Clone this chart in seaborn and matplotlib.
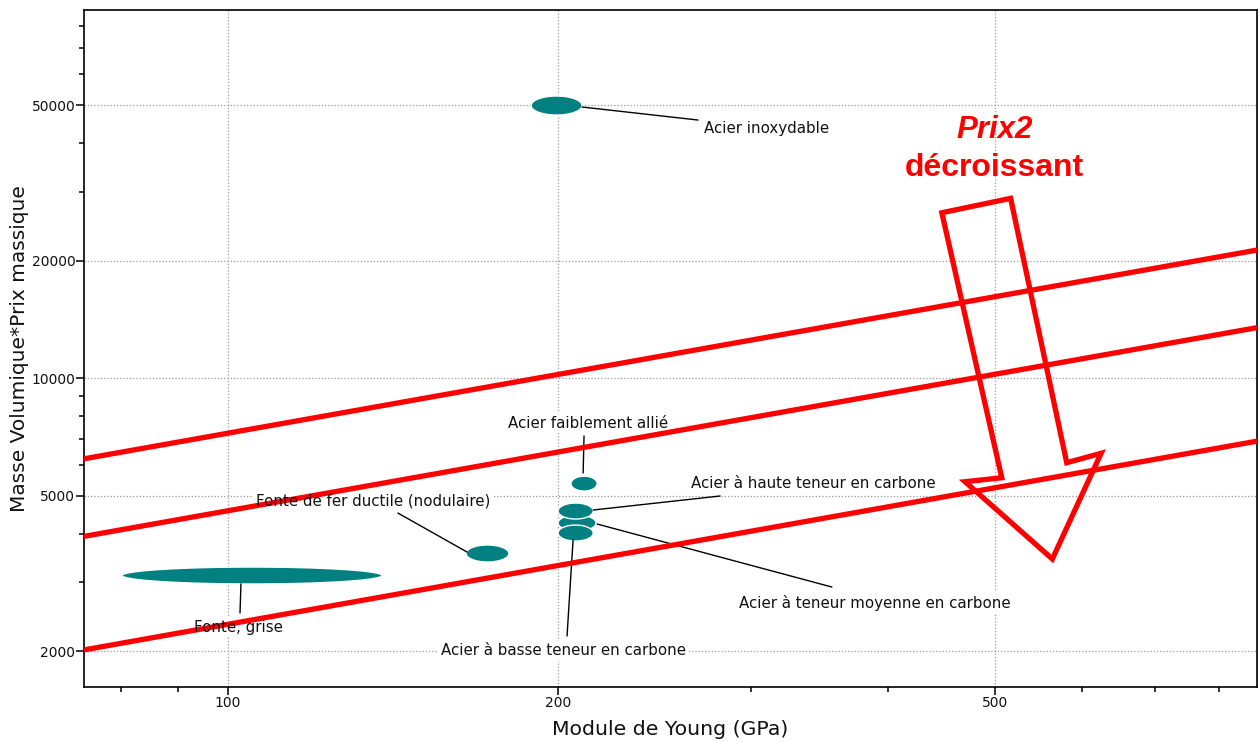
import numpy as np
import pandas as pd
import matplotlib
matplotlib.use("Agg")
import matplotlib.pyplot as plt
import seaborn as sns
from matplotlib.ticker import FixedLocator, LogLocator, NullFormatter, FuncFormatter

# Material property ranges: Young's modulus (GPa) and density * price per mass
materials = [
    "Acier inoxydable",
    "Fonte, grise",
    "Fonte de fer ductile (nodulaire)",
    "Acier faiblement allié",
    "Acier à teneur moyenne en carbone",
    "Acier à haute teneur en carbone",
    "Acier à basse teneur en carbone",
]
young_lo = [189.0, 80.1, 164.9, 205.5, 200.0, 200.0, 200.0]
young_hi = [210.3, 138.2, 180.4, 217.1, 216.6, 215.3, 215.3]
cost_lo = [47200, 2972, 3383, 5141, 4062, 4359, 3829]
cost_hi = [52800, 3284, 3740, 5612, 4464, 4790, 4207]

# Label anchors and leader lines (data units)
label_x = [271.7, 93.2, 106.1, 180.0, 292.4, 264.4, 156.4]
label_y = [43710, 2306, 4848, 7677, 2656, 5359, 2002]
leader_x0 = [210.3, 102.8, 142.9, 211.2, 217.1, 215.3, 206.4]
leader_y0 = [49490, 2972, 4516, 7111, 4232, 4597, 3852]
leader_x1 = [268.3, 102.6, 165.2, 210.8, 355.3, 281.0, 203.8]
leader_y1 = [45830, 2505, 3589, 5718, 2919, 4993, 2187]

# Performance index lines: value = C * E^(1/2)
index_consts = [723.0, 457.6, 234.3]
index_slope = 0.5

# Axis ranges and ticks
x_lim = (74.0, 866.5)
y_lim = (1616, 87690)
x_major = [100, 200, 500]
y_major = [2000, 5000, 10000, 20000, 50000]

# Outline of the "decreasing price" arrow (data units)
arrow_x = [447.5, 517.0, 581.6, 625.1, 564.3, 469.8, 507.5]
arrow_y = [26530, 28880, 6076, 6424, 3443, 5432, 5560]

sns.set_theme(style="white")
plt.rcParams["font.family"] = ["DejaVu Sans"]

fig = plt.figure(figsize=(12.59, 7.42), dpi=100)
ax = fig.add_axes([84.3 / 1259, 1 - 687.3 / 742, (1256.7 - 84.3) / 1259, (687.3 - 10) / 742])
ax.set_xscale("log")
ax.set_yscale("log")
ax.set_xlim(*x_lim)
ax.set_ylim(*y_lim)

# Grid only at labelled ticks
for xv in x_major:
    ax.axvline(xv, color="#9a9a9a", lw=0.9, ls=(0, (1, 1.6)), zorder=0.5)
for yv in y_major:
    ax.axhline(yv, color="#9a9a9a", lw=0.9, ls=(0, (1, 1.6)), zorder=0.5)

# Index lines
e_line = np.geomspace(x_lim[0], x_lim[1], 50)
rows = []
for k, c in enumerate(index_consts):
    for e in e_line:
        rows.append({"E": e, "val": c * e ** index_slope, "line": k})
lines_df = pd.DataFrame(rows)
sns.lineplot(data=lines_df, x="E", y="val", units="line", estimator=None,
             color="#ff0000", lw=3.8, ax=ax, legend=False, zorder=3)

# Property bubbles as ellipses in log space
t = np.linspace(0, 2 * np.pi, 200)
teal = "#008080"
for i in range(len(materials)):
    lx0, lx1 = np.log10(young_lo[i]), np.log10(young_hi[i])
    ly0, ly1 = np.log10(cost_lo[i]), np.log10(cost_hi[i])
    cx, rx = (lx0 + lx1) / 2, (lx1 - lx0) / 2
    cy, ry = (ly0 + ly1) / 2, (ly1 - ly0) / 2
    ax.fill(10 ** (cx + rx * np.cos(t)), 10 ** (cy + ry * np.sin(t)),
            facecolor=teal, edgecolor="white", lw=1.0, zorder=2)

# Labels with leader lines
for i, name in enumerate(materials):
    ax.plot([leader_x0[i], leader_x1[i]], [leader_y0[i], leader_y1[i]],
            color="black", lw=1.0, zorder=2.5)
    ax.text(label_x[i], label_y[i], name, fontsize=10.8, color="#111111",
            ha="left", va="center", zorder=1.5, alpha=0.0,
            bbox=dict(facecolor="white", edgecolor="none", pad=2))
    ax.text(label_x[i], label_y[i], name, fontsize=10.8, color="#111111",
            ha="left", va="center", zorder=5)

# Decreasing price arrow
ax.fill(arrow_x, arrow_y, facecolor="none", edgecolor="#ff0000", lw=3.8,
        joinstyle="miter", zorder=4)
ax.text(500, 43200, "Prix2", color="#ff0000", fontsize=22.5, fontweight="bold",
        fontstyle="italic", family="Liberation Sans", ha="center", va="center", zorder=5)
ax.text(500, 34530, "décroissant", color="#ff0000", fontsize=23, fontweight="bold",
        family="Liberation Sans", ha="center", va="center", zorder=5)

# Ticks
ax.xaxis.set_major_locator(FixedLocator(x_major))
ax.xaxis.set_minor_locator(LogLocator(base=10, subs=np.arange(2, 10)))
ax.yaxis.set_major_locator(FixedLocator(y_major))
ax.yaxis.set_minor_locator(LogLocator(base=10, subs=np.arange(2, 10)))
fmt = FuncFormatter(lambda v, p: f"{int(round(v))}")
ax.xaxis.set_major_formatter(fmt)
ax.yaxis.set_major_formatter(fmt)
ax.xaxis.set_minor_formatter(NullFormatter())
ax.yaxis.set_minor_formatter(NullFormatter())
ax.tick_params(which="major", direction="out", length=6, width=1.1, color="black",
               labelsize=10, labelcolor="#111111", bottom=True, left=True, pad=0.5)
ax.tick_params(which="minor", direction="out", length=3.5, width=1.1, color="black",
               bottom=True, left=True)

for s in ax.spines.values():
    s.set_visible(True)
    s.set_color("black")
    s.set_linewidth(1.2)

ax.set_xlabel("Module de Young (GPa)", fontsize=14.7, color="#111111", labelpad=7)
ax.set_ylabel("Masse Volumique*Prix massique", fontsize=14.5, color="#111111", labelpad=2)

fig.savefig("out.png", dpi=100)
